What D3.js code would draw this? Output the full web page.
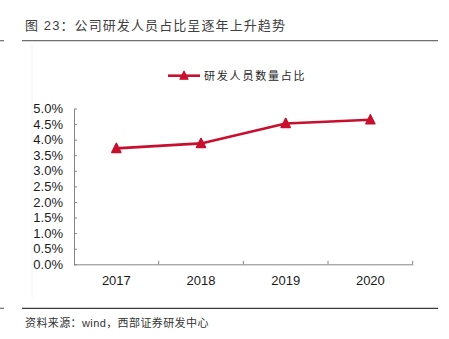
<!DOCTYPE html>
<html><head><meta charset="utf-8">
<script src="https://cdn.jsdelivr.net/npm/d3@7"></script>
<style>
html,body{margin:0;padding:0;background:#fff;}
svg{display:block;}
</style>
</head><body>
<script>
const categories = ["2017", "2018", "2019", "2020"];
const values = [0.0372, 0.0388, 0.0452, 0.0464];
const yTicks = [0, 0.005, 0.01, 0.015, 0.02, 0.025, 0.03, 0.035, 0.04, 0.045, 0.05];
const seriesName = "研发人员数量占比";
const titleText = "图 23：公司研发人员占比呈逐年上升趋势";
const sourceText = "资料来源：wind，西部证券研发中心";

const W = 449, H = 339;
const red = "#C8102E";
const latin = "'Liberation Sans', Arial, sans-serif";
const cjk = "'Liberation Sans', 'Noto Sans CJK SC', sans-serif";

const svg = d3.select("body").append("svg").attr("width", W).attr("height", H);

// faint frame line
svg.append("line").attr("x1", 32).attr("x2", 32).attr("y1", 45).attr("y2", 298)
  .attr("stroke", "#f2f2f2").attr("stroke-width", 1);

// title
svg.append("text").attr("x", 25).attr("y", 29.5).text(titleText)
  .attr("font-family", cjk).attr("font-size", 13).attr("fill", "#404040")
  .attr("letter-spacing", 1.1);
svg.append("line").attr("x1", 22).attr("x2", 438).attr("y1", 40.7).attr("y2", 40.7)
  .attr("stroke", "#6e6e6e").attr("stroke-width", 1.2);
svg.append("line").attr("x1", 0).attr("x2", 4).attr("y1", 40.7).attr("y2", 40.7)
  .attr("stroke", "#6e6e6e").attr("stroke-width", 1.2);

// bottom line and source
svg.append("line").attr("x1", 22).attr("x2", 438).attr("y1", 308.3).attr("y2", 308.3)
  .attr("stroke", "#3a3a3a").attr("stroke-width", 1.2);
svg.append("line").attr("x1", 0).attr("x2", 4).attr("y1", 308.3).attr("y2", 308.3)
  .attr("stroke", "#6e6e6e").attr("stroke-width", 1.2);
svg.append("text").attr("x", 25).attr("y", 327).text(sourceText)
  .attr("font-family", cjk).attr("font-size", 11).attr("fill", "#333")
  .attr("letter-spacing", 0.4);

// scales
const x = d3.scaleBand().domain(categories).range([74, 412.7]).paddingInner(0).paddingOuter(0);
const y = d3.scaleLinear().domain([0, 0.05]).range([264.3, 108.5]);

// y axis
const yAxis = d3.axisLeft(y).tickValues(yTicks).tickFormat(d3.format(".1%"))
  .tickSizeInner(-3).tickSizeOuter(0).tickPadding(11);
const gy = svg.append("g").attr("transform", "translate(74,0)").call(yAxis);
gy.select(".domain").attr("stroke", "#868686");
gy.selectAll(".tick line").attr("stroke", "#868686");
gy.selectAll("text").attr("font-family", latin).attr("font-size", 13).attr("fill", "#1a1a1a");

// x axis (labels)
const xAxis = d3.axisBottom(x).tickSize(0).tickPadding(11);
const gx = svg.append("g").attr("transform", "translate(0,264.3)").call(xAxis);
gx.select(".domain").attr("stroke", "#868686");
gx.selectAll("text").attr("font-family", latin).attr("font-size", 13).attr("fill", "#1a1a1a");
// boundary ticks (inward)
const bounds = categories.map(c => x(c)).concat([x(categories[categories.length - 1]) + x.bandwidth()]);
gx.selectAll(".btick").data(bounds.slice(1)).enter().append("line")
  .attr("x1", d => d).attr("x2", d => d).attr("y1", 0).attr("y2", -3.5)
  .attr("stroke", "#868686");

// line
const cx = c => x(c) + x.bandwidth() / 2;
const pts = categories.map((c, i) => [cx(c), y(values[i])]);
svg.append("path").datum(pts).attr("d", d3.line())
  .attr("fill", "none").attr("stroke", red).attr("stroke-width", 2.6)
  .attr("stroke-linejoin", "round");

const tri = (px, py, w, h) => `M${px},${py - h / 2}L${px + w / 2},${py + h / 2}L${px - w / 2},${py + h / 2}Z`;
svg.selectAll(".mk").data(pts).enter().append("path")
  .attr("d", d => tri(d[0], d[1] - 0.5, 9, 9))
  .attr("fill", red).attr("stroke", red).attr("stroke-width", 1.5).attr("stroke-linejoin", "round");

// legend
svg.append("line").attr("x1", 168).attr("x2", 200).attr("y1", 75.7).attr("y2", 75.7)
  .attr("stroke", red).attr("stroke-width", 2.6);
svg.append("path").attr("d", tri(184, 75.2, 8, 8))
  .attr("fill", red).attr("stroke", red).attr("stroke-width", 1.3).attr("stroke-linejoin", "round");
svg.append("text").attr("x", 204).attr("y", 79.8).text(seriesName)
  .attr("font-family", cjk).attr("font-size", 11).attr("fill", "#262626")
  .attr("letter-spacing", 1.8);
</script>
</body></html>
